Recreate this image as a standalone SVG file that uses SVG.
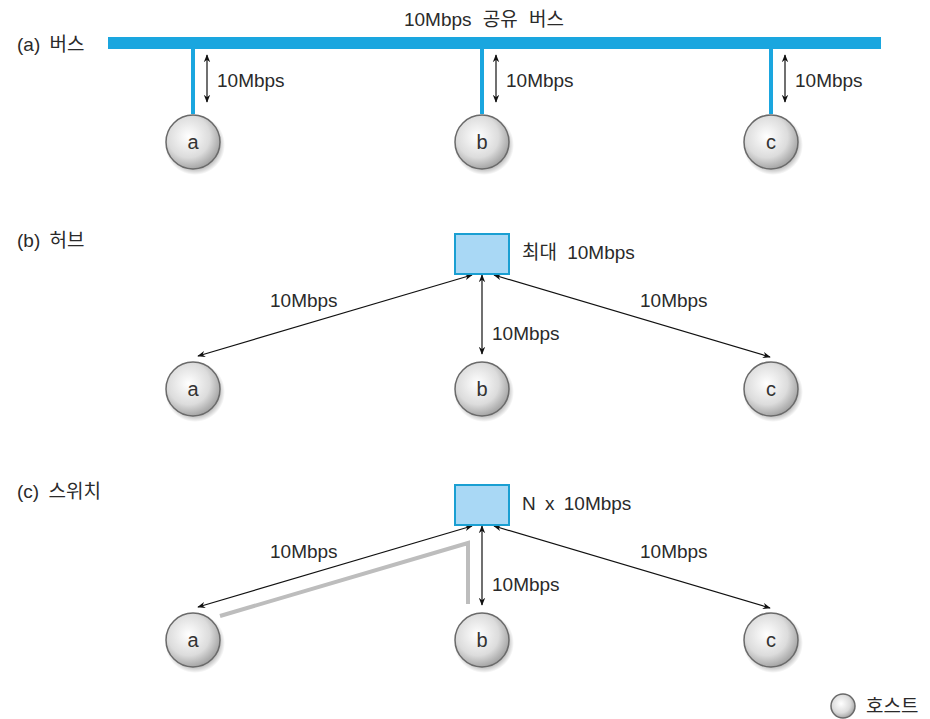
<svg xmlns="http://www.w3.org/2000/svg" width="930" height="719" viewBox="0 0 930 719">
<style>
text{font-family:"Liberation Sans","Noto Sans CJK KR",sans-serif;fill:#2a2a2a;}
.lbl{font-size:19px;word-spacing:3px;}
.ttl{font-size:19px;word-spacing:4px;}
.host{fill:url(#hg);stroke:#6a6a6a;stroke-width:1.5;}
.hl{font-size:20px;text-anchor:middle;fill:#333;}
.wire{stroke:#1aa6df;stroke-width:4;}
.ar{stroke:#111;stroke-width:1.2;fill:none;marker-start:url(#ah);marker-end:url(#ah);}
.sw{fill:#a9d8f5;stroke:#1a9fd2;stroke-width:2;}
</style>
<defs>
<radialGradient id="hg" cx="0.42" cy="0.4" r="0.65">
<stop offset="0" stop-color="#ffffff"/>
<stop offset="0.6" stop-color="#dcdcdc"/>
<stop offset="1" stop-color="#9a9a9a"/>
</radialGradient>
<radialGradient id="sh" cx="0.5" cy="0.5" r="0.5">
<stop offset="0.8" stop-color="#000" stop-opacity="0.25"/>
<stop offset="1" stop-color="#000" stop-opacity="0"/>
</radialGradient>
<marker id="ah" viewBox="0 0 10 10" refX="9" refY="5" markerWidth="8" markerHeight="8" orient="auto-start-reverse" markerUnits="userSpaceOnUse">
<path d="M0,1 L10,5 L0,9 L3,5 z" fill="#111"/>
</marker>
</defs>

<text class="ttl" x="17" y="51">(a) 버스</text>
<text class="ttl" x="17" y="247">(b) 허브</text>
<text class="ttl" x="17" y="498">(c) 스위치</text>
<text class="lbl" x="484" y="26" text-anchor="middle" style="word-spacing:6px">10Mbps 공유 버스</text>

<g id="bus">
<rect x="108" y="37" width="773" height="12" fill="#1aa6df"/>
</g>

<g id="connectors">
<line class="wire" x1="193" y1="49" x2="193" y2="114"/>
<line class="wire" x1="482" y1="49" x2="482" y2="114"/>
<line class="wire" x1="771" y1="49" x2="771" y2="114"/>
<line class="ar" x1="207" y1="55" x2="207" y2="102"/>
<line class="ar" x1="496" y1="55" x2="496" y2="102"/>
<line class="ar" x1="785" y1="55" x2="785" y2="102"/>
<line class="ar" x1="472" y1="275" x2="198" y2="356"/>
<line class="ar" x1="482" y1="275" x2="482" y2="354"/>
<line class="ar" x1="494" y1="275" x2="770" y2="357"/>
<polyline points="220,616 468,543 468,604" fill="none" stroke="#bdbdbd" stroke-width="4"/>
<line class="ar" x1="472" y1="526" x2="198" y2="607"/>
<line class="ar" x1="482" y1="526" x2="482" y2="605"/>
<line class="ar" x1="494" y1="526" x2="770" y2="608"/>
</g>

<text class="lbl" x="217" y="87">10Mbps</text>
<text class="lbl" x="506" y="87">10Mbps</text>
<text class="lbl" x="795" y="87">10Mbps</text>
<text class="lbl" x="270" y="307">10Mbps</text>
<text class="lbl" x="492" y="340">10Mbps</text>
<text class="lbl" x="640" y="307">10Mbps</text>
<text class="lbl" x="270" y="558">10Mbps</text>
<text class="lbl" x="492" y="591">10Mbps</text>
<text class="lbl" x="640" y="558">10Mbps</text>

<g id="hub">
<rect class="sw" x="455" y="234" width="54" height="40"/>
<text class="lbl" x="522" y="259" style="word-spacing:5px">최대 10Mbps</text>
</g>
<g id="switch">
<rect class="sw" x="455" y="485" width="54" height="40"/>
<text class="lbl" x="522" y="510" style="word-spacing:4px">N x 10Mbps</text>
</g>

<g id="a1"><circle cx="195" cy="145" r="30" fill="url(#sh)"/><circle class="host" cx="193" cy="142" r="27"/><text class="hl" x="193" y="149">a</text></g>
<g id="b1"><circle cx="484" cy="145" r="30" fill="url(#sh)"/><circle class="host" cx="482" cy="142" r="27"/><text class="hl" x="482" y="149">b</text></g>
<g id="c1"><circle cx="773" cy="145" r="30" fill="url(#sh)"/><circle class="host" cx="771" cy="142" r="27"/><text class="hl" x="771" y="149">c</text></g>

<g id="a2"><circle cx="195" cy="392" r="30" fill="url(#sh)"/><circle class="host" cx="193" cy="389" r="27"/><text class="hl" x="193" y="396">a</text></g>
<g id="b2"><circle cx="484" cy="392" r="30" fill="url(#sh)"/><circle class="host" cx="482" cy="389" r="27"/><text class="hl" x="482" y="396">b</text></g>
<g id="c2"><circle cx="773" cy="392" r="30" fill="url(#sh)"/><circle class="host" cx="771" cy="389" r="27"/><text class="hl" x="771" y="396">c</text></g>

<g id="a3"><circle cx="195" cy="643" r="30" fill="url(#sh)"/><circle class="host" cx="193" cy="640" r="27"/><text class="hl" x="193" y="647">a</text></g>
<g id="b3"><circle cx="484" cy="643" r="30" fill="url(#sh)"/><circle class="host" cx="482" cy="640" r="27"/><text class="hl" x="482" y="647">b</text></g>
<g id="c3"><circle cx="773" cy="643" r="30" fill="url(#sh)"/><circle class="host" cx="771" cy="640" r="27"/><text class="hl" x="771" y="647">c</text></g>

<g id="legend">
<circle class="host" cx="843" cy="706" r="12"/>
<text class="lbl" x="866" y="713">호스트</text>
</g>
</svg>
